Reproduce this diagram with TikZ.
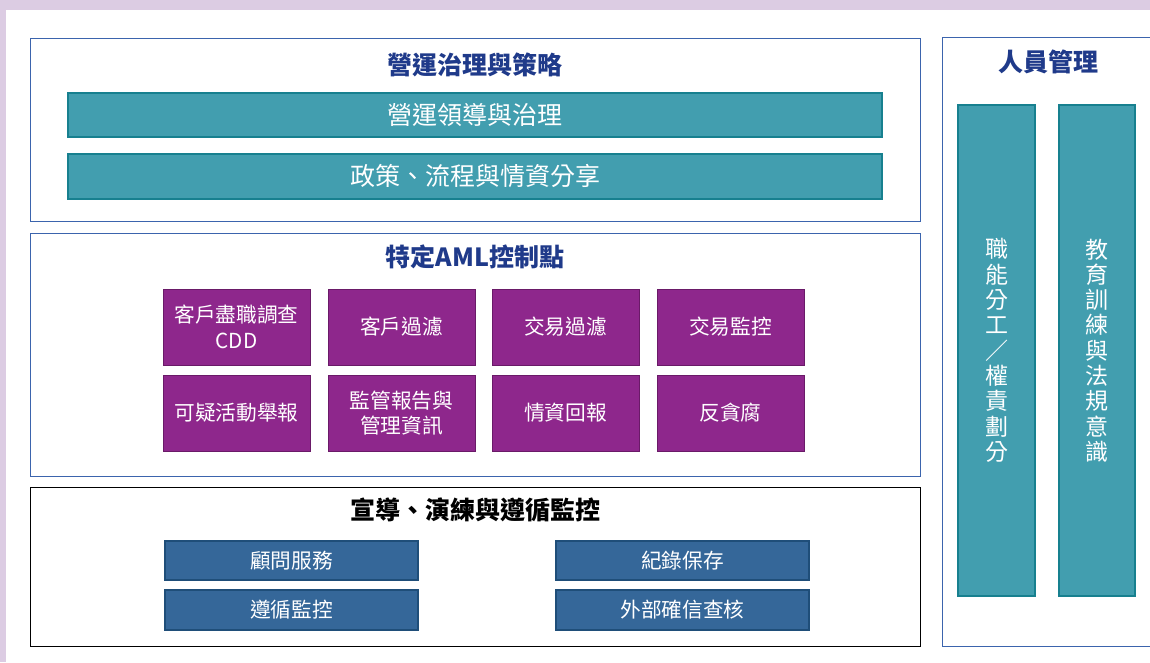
\documentclass[tikz,border=0pt]{standalone}
\usepackage{fontspec}
\setmainfont{Noto Sans CJK TC}
\definecolor{lav}{HTML}{DCCCE3}
\definecolor{boxblue}{HTML}{3B64AD}
\definecolor{navy}{HTML}{1F3A8A}
\definecolor{tealf}{HTML}{429EAF}
\definecolor{tealb}{HTML}{17808F}
\definecolor{purf}{HTML}{8E278C}
\definecolor{purb}{HTML}{6A1A68}
\definecolor{dbf}{HTML}{356799}
\definecolor{dbb}{HTML}{1F4E79}
\tikzset{
  panel/.style={draw=boxblue, line width=1pt, fill=white, inner sep=0pt},
  ttl/.style={font=\fontsize{25}{28}\selectfont\bfseries, text=navy, inner sep=0pt},
  tealbar/.style={draw=tealb, line width=1.2pt, fill=tealf, text=white, inner sep=0pt, minimum width=814pt, font=\fontsize{25}{28}\selectfont},
  purbox/.style={draw=purb, line width=1pt, fill=purf, text=white, inner sep=0pt, minimum width=147pt, minimum height=76pt, align=center, font=\fontsize{20.7}{25.5}\selectfont},
  dbbar/.style={draw=dbb, line width=1.2pt, fill=dbf, text=white, inner sep=0pt, minimum width=253pt, font=\fontsize{20.7}{25}\selectfont},
  vbar/.style={draw=tealb, line width=1.2pt, fill=tealf, text=white, inner sep=0pt, minimum height=491pt, align=center, font=\fontsize{23}{25.3}\selectfont},
}
\begin{document}
\begin{tikzpicture}[x=1pt,y=-1pt]
\useasboundingbox (0,0) rectangle (1150,662);
\fill[lav] (0,0) rectangle (1150,662);
\fill[white] (6,10) rectangle (1150,662);
% panels
\node[panel, minimum width=890pt, minimum height=183pt] (p1) at (475,129.5) {};
\node[panel, minimum width=890pt, minimum height=243pt] (p2) at (475,354.5) {};
\node[panel, draw=black, line width=0.9pt, minimum width=890pt, minimum height=159pt] (p3) at (475,566.5) {};
\node[panel, minimum width=218pt, minimum height=609pt] (p4) at (1051,341.5) {};
% titles
\node[ttl] (t1) at (475,65) {營運治理與策略};
\node[ttl] (t2) at (475,257) {特定AML控制點};
\node[ttl, text=black] (t3) at (475,510) {宣導、演練與遵循監控};
\node[ttl] (t4) at (1048,62) {人員管理};
% teal bars
\node[tealbar, minimum height=44pt] (g1) at (475,115) {營運領導與治理};
\node[tealbar, minimum height=45pt] (g2) at (475,176.5) {政策、流程與情資分享};
% purple boxes
\node[purbox] (c1) at (236.5,327) {客戶盡職調查\\CDD};
\node[purbox] (c2) at (401.5,327) {客戶過濾};
\node[purbox] (c3) at (565.5,327) {交易過濾};
\node[purbox] (c4) at (730.5,327) {交易監控};
\node[purbox] (c5) at (236.5,413) {可疑活動舉報};
\node[purbox] (c6) at (401.5,413) {監管報告與\\管理資訊};
\node[purbox] (c7) at (565.5,413) {情資回報};
\node[purbox] (c8) at (730.5,413) {反貪腐};
% dark blue bars
\node[dbbar, minimum height=39pt] (d1) at (291.5,560.5) {顧問服務};
\node[dbbar, minimum height=39pt] (d2) at (682.5,560.5) {紀錄保存};
\node[dbbar, minimum height=40pt] (d3) at (291.5,610) {遵循監控};
\node[dbbar, minimum height=40pt] (d4) at (682.5,610) {外部確信查核};
% vertical bars
\node[vbar, minimum width=77pt] (v1) at (996.5,350.5) {職\\能\\分\\工\\／\\權\\責\\劃\\分};
\node[vbar, minimum width=76pt] (v2) at (1097,350.5) {教\\育\\訓\\練\\與\\法\\規\\意\\識};
\end{tikzpicture}
\end{document}
